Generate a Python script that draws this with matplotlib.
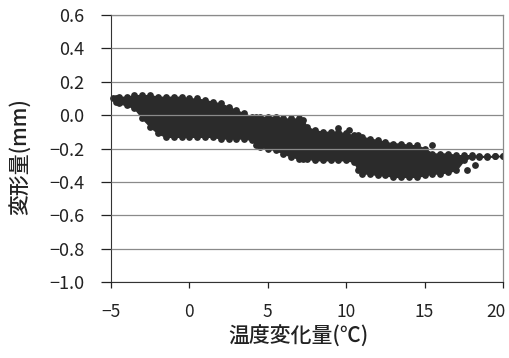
import matplotlib
matplotlib.use("Agg")
import matplotlib.pyplot as plt
from matplotlib.transforms import ScaledTranslation

plt.rcParams['font.family'] = ['Noto Sans CJK JP', 'DejaVu Sans']

# Envelope of the dense point cloud (centres of the outermost points)
temp_change = [-4.7, -4.5, -4.0, -3.5, -3.0, -2.5, -2.0, -1.5, -1.0, -0.5, 0.0, 0.5, 1.0, 1.5,
               2.0, 2.5, 3.0, 3.5, 4.0, 4.25, 4.5, 5.0, 5.5, 6.0, 6.5, 7.0, 7.25, 7.5, 8.0, 8.5,
               9.0, 9.5, 10.0, 10.5, 10.75, 11.0, 11.5, 12.0, 12.5, 13.0, 13.5, 14.0, 14.5,
               15.0, 15.5, 16.0, 16.5, 17.0, 17.5, 18.0, 18.5, 19.0, 19.5, 20.0]
defo_upper = [0.10, 0.11, 0.11, 0.12, 0.12, 0.12, 0.11, 0.11, 0.11, 0.11, 0.10, 0.10, 0.09, 0.08,
              0.07, 0.05, 0.03, 0.01, -0.01, -0.01, -0.01, -0.01, -0.01, -0.02, -0.02, -0.02,
              -0.03, -0.07, -0.09, -0.10, -0.10, -0.10, -0.11, -0.12, -0.12, -0.13, -0.14,
              -0.15, -0.16, -0.17, -0.17, -0.18, -0.18, -0.20, -0.23, -0.23, -0.23, -0.24,
              -0.24, -0.24, -0.245, -0.245, -0.245, -0.245]
defo_lower = [0.08, 0.07, 0.06, 0.04, -0.02, -0.07, -0.11, -0.13, -0.13, -0.13, -0.13, -0.13,
              -0.13, -0.13, -0.14, -0.14, -0.14, -0.14, -0.15, -0.18, -0.19, -0.20, -0.21,
              -0.23, -0.25, -0.26, -0.26, -0.26, -0.27, -0.27, -0.27, -0.27, -0.27, -0.28,
              -0.33, -0.35, -0.35, -0.36, -0.36, -0.37, -0.37, -0.37, -0.37, -0.36, -0.35,
              -0.35, -0.34, -0.33, -0.27, -0.25, -0.25, -0.25, -0.245, -0.245]

# Isolated points outside the dense cloud
outlier_temp = [-4.85, 9.5, 10.2, 15.45, 17.7, 18.2]
outlier_defo = [0.10, -0.08, -0.09, -0.18, -0.33, -0.30]

x_ticks = [-5, 0, 5, 10, 15, 20]
y_ticks = [-1.0, -0.8, -0.6, -0.4, -0.2, 0.0, 0.2, 0.4, 0.6]

point_color = '#2b2b2b'

fig = plt.figure(figsize=(5.10, 3.58), dpi=100)
ax = fig.add_axes([0.2176, 0.2123, 0.9863 - 0.2176, 0.958 - 0.2123])

ax.set_xlim(-5, 20)
ax.set_ylim(-1.0, 0.6)
ax.set_xticks(x_ticks)
ax.set_yticks(y_ticks)
ax.set_xticklabels([f"{v:d}".replace('-', '\u2212') for v in x_ticks])
ax.set_yticklabels([f"{v:.1f}".replace('-', '\u2212') for v in y_ticks])

ax.fill_between(temp_change, defo_lower, defo_upper, facecolor=point_color,
                edgecolor=point_color, linewidth=1.0, antialiased=True, zorder=2)
ax.scatter(temp_change, defo_upper, s=24, color=point_color, linewidths=0, zorder=2)
ax.scatter(temp_change, defo_lower, s=24, color=point_color, linewidths=0, zorder=2)
ax.scatter(outlier_temp, outlier_defo, s=24, color=point_color, linewidths=0, zorder=2,
           clip_on=False)

ax.set_axisbelow(False)
ax.yaxis.grid(True, color='#8a8a8a', linewidth=0.9, zorder=3)

for side in ['top', 'right']:
    ax.spines[side].set_color('#8a8a8a')
    ax.spines[side].set_linewidth(0.9)
ax.spines['left'].set_color('#333333')
ax.spines['bottom'].set_color('#333333')

ax.tick_params(axis='y', direction='out', length=7, width=0.9, pad=12, labelsize=13,
               colors='#222222')
ax.tick_params(axis='x', direction='out', length=4, width=0.9, pad=11, labelsize=12.5,
               colors='#222222')

# keep the last x tick label inside the figure edge
last_tick = ax.xaxis.get_major_ticks()[-1]
last_tick.label1.set_transform(last_tick.label1.get_transform()
                               + ScaledTranslation(-5 / 72, 0, fig.dpi_scale_trans))

ax.set_xlabel('温度変化量(℃)', fontsize=15, fontweight='medium', color='#222222')
ax.set_ylabel('変形量(mm)', fontsize=15, fontweight='medium', color='#222222')
ax.xaxis.set_label_coords(0.477, -0.163)
ax.yaxis.set_label_coords(-0.202, 0.468)

fig.savefig('out.png', dpi=100)
